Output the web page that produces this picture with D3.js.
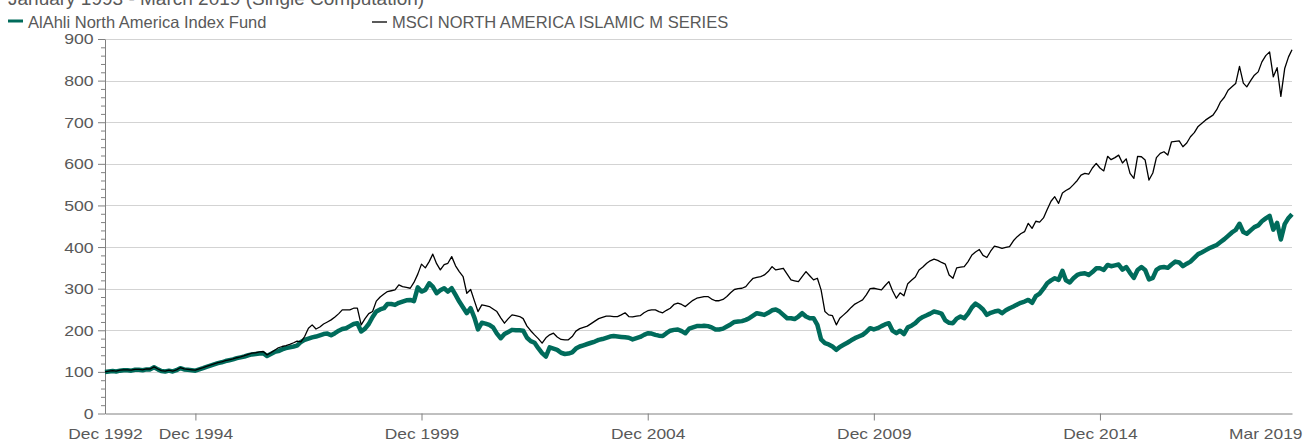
<!DOCTYPE html>
<html>
<head>
<meta charset="utf-8">
<script src="https://cdn.jsdelivr.net/npm/d3@7"></script>
<style>
  html, body { margin: 0; padding: 0; background: #fff; }
  svg { display: block; font-family: "Liberation Sans", Arial, sans-serif; }
</style>
</head>
<body>
<svg id="chart" width="1304" height="442"></svg>
<script>
// monthly index values, Dec 1992 = 100, one row per year (Jan..Dec)
const startMonth = new Date(1992, 11, 1);

const fundValues = [
  100,
  101, 102, 101, 103, 104, 104, 103, 105, 105, 104, 106, 106, // 1993
  111, 106, 102, 101, 103, 101, 104, 109, 106, 105, 104, 103, // 1994
  106, 109, 112, 115, 118, 121, 123, 126, 128, 130, 133, 135, // 1995
  137, 140, 142, 143, 144, 145, 138, 143, 148, 150, 154, 157, // 1996
  159, 161, 163, 172, 177, 180, 183, 185, 188, 191, 192, 188, // 1997
  193, 199, 203, 205, 210, 215, 217, 197, 204, 215, 232, 245, // 1998
  250, 253, 263, 263, 261, 266, 269, 272, 273, 270, 303, 293, // 1999
  297, 313, 305, 289, 296, 301, 293, 301, 285, 269, 255, 241, // 2000
  253, 230, 202, 218, 216, 213, 207, 192, 181, 191, 196, 201, // 2001
  200, 200, 199, 182, 174, 170, 157, 145, 137, 159, 156, 153, // 2002
  146, 143, 144, 147, 156, 161, 164, 167, 170, 173, 177, 179, // 2003
  182, 185, 186, 185, 184, 183, 182, 178, 181, 184, 189, 193, // 2004
  192, 189, 187, 186, 193, 199, 201, 202, 198, 193, 204, 207, // 2005
  210, 210, 211, 210, 207, 202, 202, 204, 209, 214, 220, 221, // 2006
  222, 225, 229, 235, 241, 239, 237, 242, 248, 250, 245, 237, // 2007
  229, 229, 227, 233, 241, 233, 229, 229, 213, 178, 169, 166, // 2008
  161, 153, 160, 165, 170, 176, 181, 185, 189, 196, 205, 202, // 2009
  205, 210, 214, 217, 199, 193, 199, 191, 207, 211, 217, 226, // 2010
  232, 236, 240, 245, 243, 240, 224, 218, 217, 228, 233, 229, // 2011
  240, 255, 264, 258, 250, 237, 242, 245, 247, 241, 248, 253, // 2012
  257, 262, 266, 269, 273, 266, 282, 288, 300, 313, 320, 325, // 2013
  321, 343, 320, 315, 325, 333, 336, 337, 333, 340, 349, 349, // 2014
  345, 357, 354, 356, 358, 346, 352, 338, 326, 345, 352, 345, // 2015
  322, 326, 345, 351, 352, 350, 358, 365, 363, 354, 360, 365, // 2016
  374, 383, 387, 392, 397, 401, 405, 412, 419, 427, 435, 441, // 2017
  456, 436, 432, 440, 448, 452, 462, 469, 475, 442, 458, 418, // 2018
  455, 470, 479                                              // 2019
];

const benchmarkValues = [
  100,
  102, 103, 102, 104, 105, 105, 104, 106, 106, 105, 107, 107, // 1993
  112, 107, 103, 102, 104, 102, 105, 110, 107, 106, 105, 104, // 1994
  107, 110, 113, 116, 119, 122, 124, 127, 129, 131, 134, 136, // 1995
  139, 142, 145, 146, 148, 149, 141, 146, 152, 158, 161, 163, // 1996
  166, 170, 174, 172, 185, 205, 213, 203, 208, 215, 220, 225, // 1997
  232, 240, 249, 249, 249, 253, 253, 213, 228, 240, 245, 270, // 1998
  280, 287, 293, 295, 297, 309, 305, 303, 301, 315, 335, 359, // 1999
  350, 365, 383, 360, 345, 358, 361, 377, 355, 341, 329, 289, // 2000
  298, 270, 245, 261, 259, 257, 251, 245, 230, 217, 228, 237, // 2001
  235, 233, 228, 210, 199, 189, 180, 169, 182, 189, 193, 184, // 2002
  178, 177, 177, 185, 198, 204, 207, 210, 216, 222, 228, 231, // 2003
  234, 234, 233, 233, 237, 242, 233, 232, 234, 235, 242, 247, // 2004
  249, 249, 245, 242, 248, 253, 262, 265, 262, 257, 265, 272, // 2005
  277, 279, 281, 281, 275, 271, 271, 274, 281, 290, 298, 300, // 2006
  301, 305, 315, 325, 327, 329, 333, 341, 353, 345, 347, 349, // 2007
  335, 321, 319, 317, 329, 341, 331, 321, 325, 297, 245, 237, // 2008
  235, 213, 229, 237, 245, 255, 263, 268, 273, 285, 300, 301, // 2009
  299, 297, 307, 317, 295, 277, 290, 283, 312, 320, 328, 345, // 2010
  352, 361, 367, 371, 368, 363, 359, 333, 325, 350, 352, 353, // 2011
  365, 381, 388, 394, 380, 375, 390, 402, 400, 397, 399, 401, // 2012
  415, 425, 432, 437, 457, 445, 462, 460, 470, 490, 510, 521, // 2013
  505, 530, 536, 541, 550, 560, 573, 577, 575, 590, 601, 590, // 2014
  583, 618, 610, 615, 621, 602, 612, 577, 565, 618, 617, 609, // 2015
  561, 578, 615, 625, 629, 621, 653, 654, 655, 641, 650, 665, // 2016
  675, 690, 697, 705, 711, 717, 730, 749, 760, 777, 785, 793, // 2017
  834, 794, 785, 800, 813, 821, 845, 860, 869, 809, 831, 762, // 2018
  829, 857, 874                                              // 2019
];

const seriesNames = ["AlAhli North America Index Fund", "MSCI NORTH AMERICA ISLAMIC M SERIES"];
const seriesColors = ["#006b5b", "#000000"];
const titleText = "January 1993 - March 2019 (Single Computation)";
const xTickLabels = ["Dec 1992", "Dec 1994", "Dec 1999", "Dec 2004", "Dec 2009", "Dec 2014", "Mar 2019"];
const xTickDates = [[1992, 11], [1994, 11], [1999, 11], [2004, 11], [2009, 11], [2014, 11], [2019, 2]];
const yTicks = [0, 100, 200, 300, 400, 500, 600, 700, 800, 900];

const margin = { left: 105, right: 12, top: 39, bottom: 28.5 };
const width = 1304, height = 442;
const textStretch = 1.14;

const svg = d3.select("#chart");

const dateOf = (i) => d3.timeMonth.offset(startMonth, i);

// x scale
const x = d3
  .scaleTime()
  .domain([startMonth, dateOf(fundValues.length - 1)])
  .range([margin.left, width - margin.right]);

// y scale
const y = d3
  .scaleLinear()
  .domain([0, 900])
  .range([height - margin.bottom, margin.top]);

// title (top half falls outside the picture, as in the source)
svg
  .append("text")
  .attr("x", 8)
  .attr("y", 4.5)
  .attr("font-size", 19)
  .attr("fill", "#595959")
  .text(titleText);

// legend
const legendX = [8, 372];
const legend = svg
  .selectAll(".legend")
  .data(seriesNames)
  .join("g")
  .attr("class", "legend")
  .attr("transform", (d, i) => "translate(" + legendX[i] + ",0)");
legend
  .append("line")
  .attr("x1", 0)
  .attr("x2", 15)
  .attr("y1", (d, i) => (i === 0 ? 21 : 22))
  .attr("y2", (d, i) => (i === 0 ? 21 : 22))
  .attr("stroke", (d, i) => seriesColors[i])
  .attr("stroke-width", (d, i) => (i === 0 ? 3 : 1.3));
legend
  .append("text")
  .attr("x", 20)
  .attr("y", 28)
  .attr("font-size", 16.5)
  .attr("fill", "#595959")
  .text((d) => d);

// grid lines
svg
  .append("g")
  .selectAll("line")
  .data(yTicks.slice(1))
  .join("line")
  .attr("x1", margin.left)
  .attr("x2", width - margin.right)
  .attr("y1", (d) => Math.round(y(d)) + 0.5)
  .attr("y2", (d) => Math.round(y(d)) + 0.5)
  .attr("stroke", "#d3d3d3")
  .attr("stroke-width", 1);

// minor y ticks
const minorTicks = d3.range(0, 901, 20).filter((v) => v % 100 !== 0);
svg
  .append("g")
  .attr("transform", "translate(" + margin.left + ",0)")
  .call(d3.axisLeft(y).tickValues(minorTicks).tickSize(4).tickFormat("").tickSizeOuter(0))
  .call((g) => g.select(".domain").remove())
  .call((g) => g.selectAll("line").attr("stroke", "#808080"));

// y axis
svg
  .append("g")
  .attr("transform", "translate(" + margin.left + ",0)")
  .call(d3.axisLeft(y).tickValues(yTicks).tickSize(7).tickPadding(3).tickSizeOuter(0))
  .call((g) => g.select(".domain").attr("stroke", "#808080"))
  .call((g) => g.selectAll(".tick line").attr("stroke", "#808080"))
  .call((g) =>
    g
      .selectAll("text")
      .attr("font-size", 15.5)
      .attr("font-family", "Liberation Sans, Arial, sans-serif")
      .attr("fill", "#595959")
      .attr("transform", "scale(" + textStretch + ",1)")
  );

// x axis
const tickDates = xTickDates.map((d) => new Date(d[0], d[1], 1));
const xAxis = svg
  .append("g")
  .attr("transform", "translate(0," + y(0) + ")")
  .call(
    d3
      .axisBottom(x)
      .tickValues(tickDates)
      .tickFormat((d, i) => xTickLabels[i])
      .tickSize(7)
      .tickSizeOuter(0)
  );
xAxis.select(".domain").attr("stroke", "#808080");
xAxis
  .selectAll(".tick line")
  .attr("stroke", "#808080")
  .attr("opacity", (d, i) => (i === 0 || i === tickDates.length - 1 ? 0 : 1));
xAxis
  .selectAll("text")
  .attr("font-size", 15)
  .attr("font-family", "Liberation Sans, Arial, sans-serif")
  .attr("fill", "#595959")
  .attr("y", 14.5)
  .attr("transform", "scale(" + (textStretch + 0.02) + ",1)");
xAxis
  .selectAll(".tick")
  .filter((d, i) => i === tickDates.length - 1)
  .select("text")
  .attr("text-anchor", "end")
  .attr("x", 10 / (textStretch + 0.02));

// lines
const line = d3
  .line()
  .x((d, i) => x(dateOf(i)))
  .y((d) => y(d));

svg
  .append("path")
  .datum(fundValues)
  .attr("fill", "none")
  .attr("stroke", seriesColors[0])
  .attr("stroke-width", 4.5)
  .attr("stroke-linejoin", "round")
  .attr("d", line);

svg
  .append("path")
  .datum(benchmarkValues)
  .attr("fill", "none")
  .attr("stroke", seriesColors[1])
  .attr("stroke-width", 1.3)
  .attr("stroke-linejoin", "round")
  .attr("d", line);
</script>
</body>
</html>
